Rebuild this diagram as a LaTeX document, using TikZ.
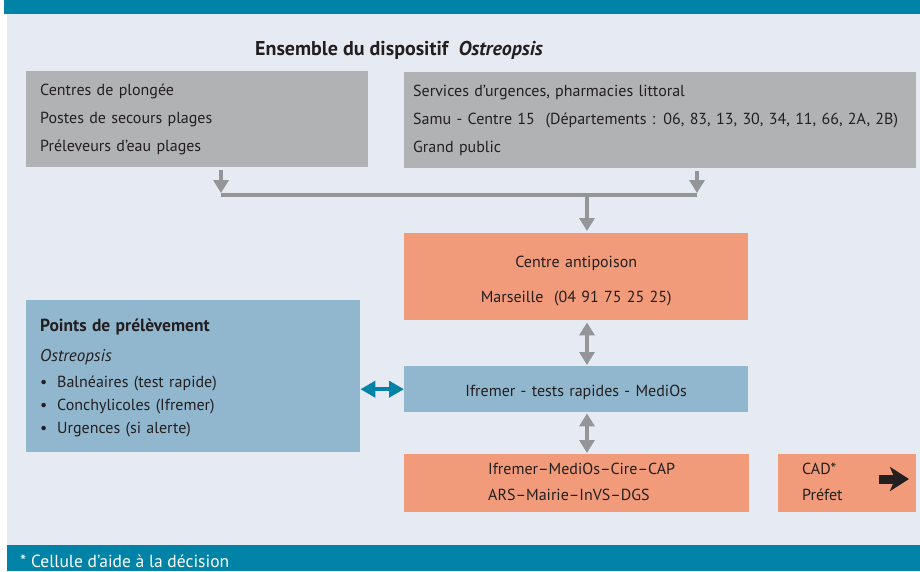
\documentclass[tikz,border=0pt]{standalone}
\usepackage{fontspec}
\setmainfont{PT Sans}
\usetikzlibrary{arrows.meta,positioning}
\definecolor{bandeau}{HTML}{0083A6}
\definecolor{fond}{HTML}{E6EAF2}
\definecolor{grisboite}{HTML}{B1B2B4}
\definecolor{grisfleche}{HTML}{939598}
\definecolor{saumon}{HTML}{F19B7A}
\definecolor{bleuboite}{HTML}{91B7CF}
\definecolor{encre}{HTML}{231F20}

\tikzset{
  boite/.style={anchor=north west, inner ysep=0pt, text=encre, font=\fontsize{16}{28}\selectfont},
  grise/.style={boite, fill=grisboite, align=left},
  orange/.style={boite, fill=saumon, align=center},
  bleue/.style={boite, fill=bleuboite},
  texte/.style={text=encre, inner sep=0pt, font=\fontsize{16}{26}\selectfont},
  fleche/.style={draw=grisfleche, line width=4.5pt, -{Triangle[length=13pt,width=15pt]}},
  doublefleche/.style={draw=grisfleche, line width=4.5pt, {Triangle[length=13pt,width=15pt]}-{Triangle[length=13pt,width=15pt]}},
  doublebleue/.style={draw=bandeau, line width=4pt, {Triangle[length=15pt,width=16pt]}-{Triangle[length=15pt,width=16pt]}},
  barre/.style={draw=grisfleche, line width=4.5pt}
}

\begin{document}
\begin{tikzpicture}[x=1pt,y=-1pt]
  \useasboundingbox (0,0) rectangle (920,571);
  \clip (0,0) rectangle (920,571);
  % fond et bandeaux
  \fill[white] (0,0) rectangle (920,571);
  \fill[fond] (7,14) rectangle (920,545);
  \fill[bandeau] (4,0) rectangle (920,14);
  \fill[bandeau] (7,545) rectangle (920,571);

  \node[texte, anchor=base west, font=\bfseries\fontsize{20}{24}\selectfont] (titre) at (255,55)
    {Ensemble du dispositif~ \textit{Ostreopsis}};

  % sources d'alerte
  \node[grise, minimum width=342pt, minimum height=96pt, text width=314pt, inner xsep=14pt] (plongee) at (26,71)
    {Centres de plongée\\Postes de secours plages\\Préleveurs d’eau plages};
  \node[grise, minimum width=512pt, minimum height=96pt, text width=494pt, inner xsep=9pt] (urgences) at (404,72)
    {Services d’urgences, pharmacies littoral\\Samu - Centre 15~ (Départements : 06, 83, 13, 30, 34, 11, 66, 2A, 2B)\\Grand public};

  % centre antipoison et Ifremer
  \node[orange, minimum width=344pt, minimum height=87pt, text width=330pt, inner xsep=7pt, font=\fontsize{16}{35}\selectfont] (antipoison) at (404,233)
    {\rule{0pt}{20pt}Centre antipoison\\Marseille~ (04 91 75 25 25)};
  \node[bleue, minimum width=344pt, minimum height=46pt, text width=330pt, inner xsep=7pt, align=center] (ifremer) at (404,366)
    {\rule{0pt}{18pt}Ifremer - tests rapides - MediOs};
  \node[bleue, minimum width=320pt, minimum height=152pt, text width=306pt, inner xsep=14pt, align=left, font=\fontsize{16}{23}\selectfont] (points) at (26,300)
    {\rule{0pt}{17pt}{\bfseries\fontsize{17.5}{23}\selectfont Points de prélèvement}\\[7pt]{\itshape\fontsize{17}{23}\selectfont Ostreopsis}\\[3pt]
     \makebox[17pt][l]{•}Balnéaires (test rapide)\\
     \makebox[17pt][l]{•}Conchylicoles (Ifremer)\\
     \makebox[17pt][l]{•}Urgences (si alerte)};

  % cellule de crise
  \node[orange, minimum width=345pt, minimum height=58pt] (crise) at (404,454) {};
  \node[texte, anchor=west, align=left] (crisetexte) at (488,482)
    {Ifremer–MediOs–Cire–CAP\\ARS–Mairie–InVS–DGS};
  \node[orange, minimum width=138pt, minimum height=58pt] (cad) at (778,454) {};
  \node[texte, anchor=west, align=left] (cadtexte) at (802,482) {CAD*\\Préfet};
  \draw[encre, line width=9pt, -{Stealth[length=19pt,width=24pt,inset=5pt]}] (879,479) -- (909,479);

  % connecteurs
  \coordinate (barreG) at (221,195);
  \coordinate (barreD) at (697,195);
  \coordinate (barreM) at (587,195);
  \draw[barre] (barreG) -- (barreD);
  \draw[fleche, shorten <=3pt, shorten >=2pt] (plongee.south -| barreG) -- (barreG);
  \draw[fleche, shorten <=3pt, shorten >=2pt] (urgences.south -| barreD) -- (barreD);
  \draw[fleche, shorten >=2pt] (barreM) -- (antipoison.north -| barreM);
  \draw[doublefleche, shorten <=2pt, shorten >=1pt] (antipoison.south -| barreM) -- (ifremer.north -| barreM);
  \draw[doublefleche, shorten <=1pt, shorten >=1pt] (ifremer.south -| barreM) -- (crise.north -| barreM);
  \draw[doublebleue] (ifremer.west -| points.east) -- (ifremer.west);

  \node[anchor=base west, inner sep=0pt, text=white, font=\fontsize{17.5}{20}\selectfont] (note) at (20,567)
    {* Cellule d’aide à la décision};
\end{tikzpicture}
\end{document}
